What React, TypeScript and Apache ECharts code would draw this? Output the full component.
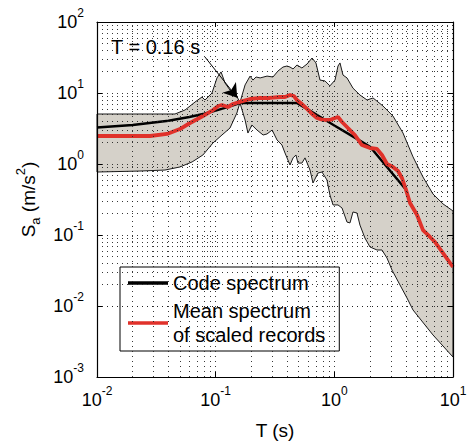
import React, { useEffect, useRef } from 'react';
import * as echarts from 'echarts';

// ---- tick values ----
const xTickValues = [0.01, 0.1, 1, 10];
const yTickValues = [0.001, 0.01, 0.1, 1, 10, 100];
const minorMultipliers = [2, 3, 4, 5, 6, 7, 8, 9];

// ---- code spectrum (T [s], Sa [m/s2]) ----
const codeT = [0.01, 0.02, 0.04, 0.06, 0.08, 0.1, 0.12, 0.14, 0.16, 0.3, 0.484, 0.6, 0.8, 1.0, 1.5, 2.0, 2.5, 3.0, 3.5, 4.0];
const codeSa = [3.26, 3.53, 4.06, 4.58, 5.11, 5.64, 6.17, 6.69, 7.22, 7.22, 7.22, 5.82, 4.37, 3.49, 2.33, 1.75, 1.12, 0.777, 0.571, 0.437];

// ---- mean spectrum of scaled records ----
const meanT = [0.01, 0.028, 0.0389, 0.05, 0.0608, 0.0781, 0.095, 0.105, 0.113, 0.127, 0.14, 0.16, 0.195, 0.237, 0.287, 0.348, 0.384, 0.423, 0.457, 0.484, 0.533, 0.589, 0.649, 0.714, 0.802, 0.918, 1.013, 1.074, 1.161, 1.303, 1.49, 1.71, 1.997, 2.287, 2.521, 2.778, 3.119, 3.44, 3.716, 4.02, 4.345, 4.977, 5.585, 6.4, 7.05, 8.24, 10];
const meanSa = [2.48, 2.48, 2.65, 3.11, 3.78, 4.74, 5.76, 6.56, 6.77, 6.35, 7.0, 7.5, 8.23, 8.51, 8.51, 8.78, 8.78, 9.37, 9.07, 7.97, 7.0, 5.96, 5.06, 4.45, 4.17, 4.17, 4.45, 4.59, 3.91, 3.21, 2.56, 1.85, 1.68, 1.63, 1.34, 1.0, 0.908, 0.796, 0.635, 0.431, 0.282, 0.191, 0.117, 0.0938, 0.0797, 0.0557, 0.0354];

// ---- envelope of scaled records: upper bound ----
const upperT = [0.01, 0.0454, 0.0552, 0.067, 0.0767, 0.0813, 0.0931, 0.1026, 0.111, 0.12, 0.132, 0.1456, 0.16, 0.177, 0.195, 0.206, 0.219, 0.237, 0.271, 0.304, 0.335, 0.369, 0.399, 0.423, 0.449, 0.484, 0.533, 0.589, 0.649, 0.7, 0.757, 0.834, 0.918, 1.013, 1.074, 1.116, 1.183, 1.279, 1.436, 1.644, 1.886, 2.12, 2.571, 3.119, 3.791, 4.603, 5.585, 6.78, 8.24, 10];
const upperSa = [5.06, 5.06, 5.76, 7.46, 8.78, 7.97, 10.0, 16.3, 19.8, 13.8, 11.0, 10.3, 7.3, 13.0, 17.3, 15.2, 16.8, 16.3, 17.3, 16.8, 20.4, 23.2, 24.0, 23.2, 21.8, 24.8, 22.5, 25.6, 31.1, 26.5, 15.2, 14.8, 12.6, 15.2, 24.0, 26.5, 17.9, 16.3, 11.7, 9.37, 7.97, 8.51, 6.56, 4.74, 2.73, 1.26, 0.656, 0.378, 0.274, 0.218];

// ---- envelope of scaled records: lower bound ----
const lowerT = [0.01, 0.023, 0.0374, 0.05, 0.0633, 0.0781, 0.095, 0.113, 0.132, 0.151, 0.16, 0.177, 0.187, 0.202, 0.223, 0.251, 0.271, 0.299, 0.329, 0.362, 0.384, 0.423, 0.449, 0.475, 0.494, 0.533, 0.566, 0.624, 0.661, 0.728, 0.787, 0.867, 0.918, 0.975, 1.074, 1.161, 1.279, 1.355, 1.436, 1.552, 1.644, 1.81, 1.997, 2.287, 2.521, 2.778, 3.062, 3.573, 4.093, 4.603, 6.78, 10];
const lowerSa = [0.771, 0.796, 0.822, 0.908, 1.07, 1.34, 1.98, 2.56, 3.21, 5.23, 7.3, 4.17, 2.73, 3.54, 3.01, 2.56, 2.65, 3.01, 2.18, 1.85, 1.43, 0.968, 1.22, 1.34, 1.03, 1.03, 1.22, 0.822, 0.54, 0.747, 0.771, 0.595, 0.366, 0.265, 0.265, 0.24, 0.152, 0.148, 0.211, 0.204, 0.138, 0.0908, 0.0678, 0.0615, 0.0615, 0.0474, 0.0321, 0.0198, 0.013, 0.00879, 0.00391, 0.00191];

// ---- annotation ----
const annotationText = 'T = 0.16 s';
const arrowStart = [0.0813, 32.1];
const arrowEnd = [0.152, 8.6];

const codeName = 'Code spectrum';
const meanName = 'Mean spectrum\nof scaled records';

const FONT = "'Liberation Sans', Arial, Helvetica, sans-serif";
const GRID_COLOR = '#222';
const RED = '#e0312a';

const expLabel = (v: number) => {
  const e = Math.round(Math.log10(v));
  return `{b|10}{s|${e}}`;
};

const tickRich = {
  b: { fontSize: 18, fontFamily: FONT, color: '#000', lineHeight: 30, verticalAlign: 'middle' },
  s: { fontSize: 12, fontFamily: FONT, color: '#000', lineHeight: 12, verticalAlign: 'top' },
};

export default function App() {
  const ref = useRef<HTMLDivElement>(null);
  useEffect(() => {
    if (!ref.current) return;
    const chart = echarts.init(ref.current, undefined, { renderer: 'svg' });

    const xGrid: number[] = [];
    for (let i = 0; i < xTickValues.length - 1; i++) {
      if (i > 0) xGrid.push(xTickValues[i]);
      minorMultipliers.forEach((m) => xGrid.push(+(xTickValues[i] * m).toPrecision(3)));
    }
    const yGrid: number[] = [];
    for (let i = 0; i < yTickValues.length - 1; i++) {
      if (i > 0) yGrid.push(yTickValues[i]);
      minorMultipliers.forEach((m) => yGrid.push(+(yTickValues[i] * m).toPrecision(3)));
    }

    const codeData = codeT.map((t, i) => [t, codeSa[i]]);
    const meanData = meanT.map((t, i) => [t, meanSa[i]]);
    const upperData = upperT.map((t, i) => [t, upperSa[i]]);
    const lowerData = lowerT.map((t, i) => [t, lowerSa[i]]);

    const axisCommon = {
      type: 'log' as const,
      logBase: 10,
      z: 10,
      axisLine: { show: true, onZero: false, lineStyle: { color: '#000', width: 1.2 } },
      axisTick: { show: true, inside: true, length: 5, lineStyle: { color: '#000', width: 1 } },
      splitLine: { show: false },
      minorTick: { show: false },
    };

    chart.setOption({
      animation: false,
      backgroundColor: '#fff',
      grid: { left: 97, top: 22, width: 356, height: 355, containLabel: false },
      legend: {
        data: [
          { name: codeName, icon: 'rect', itemStyle: { color: '#000' } },
          { name: meanName, icon: 'rect', itemStyle: { color: RED } },
        ],
        orient: 'vertical',
        left: 120,
        top: 267,
        padding: [4, 14, 4, 8],
        itemGap: 4,
        itemWidth: 40,
        itemHeight: 3.5,
        backgroundColor: '#fff',
        borderColor: '#000',
        borderWidth: 1,
        borderRadius: 0,
        selectedMode: false,
        textStyle: { fontSize: 20, lineHeight: 24, color: '#000', fontFamily: FONT },
      },
      xAxis: [
        {
          ...axisCommon,
          min: xTickValues[0],
          max: xTickValues[xTickValues.length - 1],
          position: 'bottom',
          axisLabel: { show: true, margin: 8, formatter: expLabel, rich: tickRich },
          name: 'T (s)',
          nameLocation: 'middle',
          nameGap: 44,
          nameTextStyle: { fontSize: 19, color: '#000', fontFamily: FONT },
        },
        {
          ...axisCommon,
          min: xTickValues[0],
          max: xTickValues[xTickValues.length - 1],
          position: 'top',
          axisLabel: { show: false },
        },
      ],
      yAxis: [
        {
          ...axisCommon,
          min: yTickValues[0],
          max: yTickValues[yTickValues.length - 1],
          position: 'left',
          axisLabel: { show: true, margin: 13, formatter: expLabel, rich: tickRich },
          name: '{n|S}{sub|a}{n| (m/s}{sup|2}{n|)}',
          nameLocation: 'middle',
          nameRotate: 90,
          nameGap: 54,
          nameTextStyle: {
            color: '#000',
            fontFamily: FONT,
            rich: {
              n: { fontSize: 19, fontFamily: FONT, color: '#000', lineHeight: 28, verticalAlign: 'middle' },
              sub: { fontSize: 13, fontFamily: FONT, color: '#000', lineHeight: 13, verticalAlign: 'bottom' },
              sup: { fontSize: 13, fontFamily: FONT, color: '#000', lineHeight: 13, verticalAlign: 'top' },
            },
          },
        },
        {
          ...axisCommon,
          min: yTickValues[0],
          max: yTickValues[yTickValues.length - 1],
          position: 'right',
          axisLabel: { show: false },
        },
      ],
      graphic: [
        {
          type: 'text',
          left: 111,
          top: 37,
          z: 20,
          style: { text: annotationText, fontSize: 20, fontFamily: FONT, fill: '#000' },
        },
      ],
      series: [
        {
          name: 'grid',
          type: 'line',
          data: [],
          z: 1,
          silent: true,
          markLine: {
            silent: true,
            symbol: ['none', 'none'],
            label: { show: false },
            lineStyle: { color: GRID_COLOR, type: [1, 4], width: 1, opacity: 0.9 },
            emphasis: { disabled: true },
            data: [
              ...xGrid.map((v) => ({ xAxis: v })),
              ...yGrid.map((v) => ({ yAxis: v })),
            ],
          },
        },
        {
          name: 'envelope',
          type: 'custom',
          z: 2,
          silent: true,
          data: [[xTickValues[0], 1]],
          encode: { x: 0, y: 1 },
          renderItem: (_params: any, api: any) => {
            const pts = [
              ...upperData.map((p) => api.coord(p)),
              ...lowerData.slice().reverse().map((p) => api.coord(p)),
            ];
            return {
              type: 'polygon',
              shape: { points: pts },
              style: { fill: '#d5d1c9', stroke: '#1a1a1a', lineWidth: 1 },
            };
          },
        },
        {
          name: codeName,
          type: 'line',
          data: codeData,
          z: 3,
          symbol: 'none',
          showSymbol: false,
          lineStyle: { color: '#000', width: 2.5 },
          itemStyle: { color: '#000' },
          silent: true,
          markLine: {
            silent: true,
            symbol: ['none', 'arrow'],
            symbolSize: 13,
            label: { show: false },
            lineStyle: { color: '#000', type: 'solid', width: 1 },
            emphasis: { disabled: true },
            data: [[{ coord: arrowStart }, { coord: arrowEnd }]],
          },
        },
        {
          name: meanName,
          type: 'line',
          data: meanData,
          z: 4,
          symbol: 'none',
          showSymbol: false,
          lineStyle: { color: RED, width: 3.8 },
          itemStyle: { color: RED },
          silent: true,
        },
      ],
    });
    return () => chart.dispose();
  }, []);
  return <div ref={ref} style={{ position: 'absolute', left: 0, top: 0, width: 470, height: 445 }} />;
}
